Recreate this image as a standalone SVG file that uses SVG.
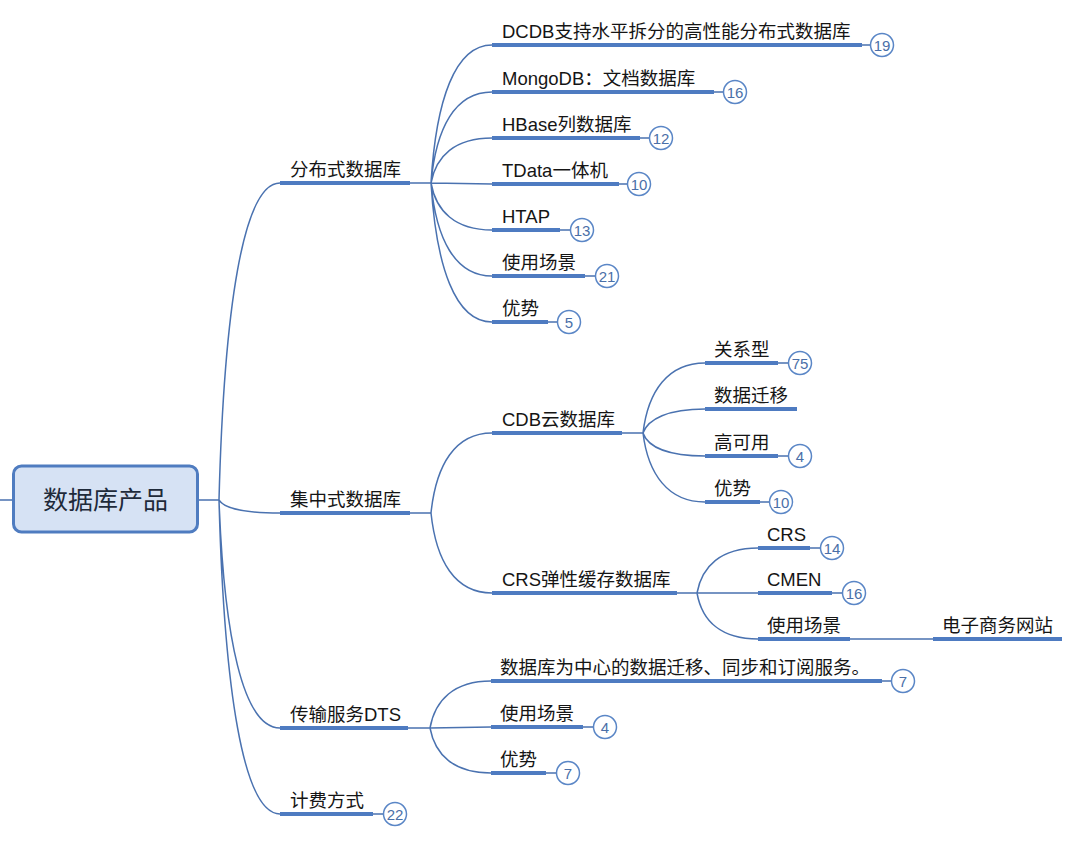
<svg xmlns="http://www.w3.org/2000/svg" width="1080" height="848" viewBox="0 0 1080 848">
<style>
.c{fill:none;stroke:#4a72b0;stroke-width:1.5}
.u{stroke:#4e7bc1;stroke-width:4;stroke-linecap:butt}
.t{font-family:"Liberation Sans","Noto Sans CJK SC",sans-serif;font-size:18.5px;fill:#151515}
.b{fill:#fff;stroke:#5a86c6;stroke-width:1.5}
.n{font-family:"Liberation Sans","Noto Sans CJK SC",sans-serif;font-size:15px;fill:#4a6fa8;text-anchor:middle}
.root{fill:#d6e2f4;stroke:#4f7cc0;stroke-width:3}
.rt{font-family:"Liberation Sans","Noto Sans CJK SC",sans-serif;font-size:25px;fill:#1e2a3a;text-anchor:middle}
</style>
<rect width="1080" height="848" fill="#fff"/>
<g id="connectors">
<path class="c" d="M0,500 H13 M198,500 H219"/>
<path class="c" d="M219,500 C224,310 243,183 280,183 M219,500 C224,508 243,513 280,513 M219,500 C224,637 243,728 280,728 M219,500 C224,688 243,814 280,814"/>
<path class="c" d="M410,183 H431 M410,513 H431 M408,728 H430 M373,814 H383.5"/>
<path class="c" d="M431,183 C436,100 455,45 492,45 M431,183 C436,128 455,92 492,92 M431,183 C436,156 455,138 492,138 M431,183 L492,184 M431,183 C436,211 455,230 492,230 M431,183 C436,239 455,276 492,276 M431,183 C436,266 455,322 492,322"/>
<path class="c" d="M862,45 H870.5 M714,92 H723.5 M640,138 H649.5 M619,184 H627.5 M560,230 H570.5 M585,276 H595.5 M548,322 H557.5"/>
<path class="c" d="M431,513 C436,465 455,433 492,433 M431,513 C436,561 455,593 492,593"/>
<path class="c" d="M622,433 H643 M677,593 H697"/>
<path class="c" d="M643,433 C648,391 668,363 705,363 M643,433 C648,419 668,409 705,409 M643,433 C648,447 668,456 705,456 M643,433 C648,474 668,502 705,502"/>
<path class="c" d="M778,363 H788.5 M778,456 H788.5 M760,502 H769.5"/>
<path class="c" d="M697,593 C702,566 721,548 758,548 M697,593 L758,593 M697,593 C702,621 721,639 758,639"/>
<path class="c" d="M810,548 H820.5 M832,593 H842.5 M850,639 H933"/>
<path class="c" d="M430,728 C435,700 454,681 491,681 M430,728 L491,727 M430,728 C435,755 454,773 491,773"/>
<path class="c" d="M882,681 H891.5 M583,727 H593.5 M546,773 H556.5"/>
</g>
<g id="root">
<rect class="root" x="13.5" y="466" width="184" height="66" rx="8"/>
<text class="rt" x="105.5" y="509">数据库产品</text>
</g>
<g id="n1"><line class="u" x1="280" y1="183" x2="410" y2="183"/><text class="t" x="290" y="176">分布式数据库</text></g>
<g id="n2"><line class="u" x1="280" y1="513" x2="410" y2="513"/><text class="t" x="290" y="506">集中式数据库</text></g>
<g id="n3"><line class="u" x1="280" y1="728" x2="408" y2="728"/><text class="t" x="290" y="721">传输服务DTS</text></g>
<g id="n4"><line class="u" x1="280" y1="814" x2="373" y2="814"/><text class="t" x="290" y="807">计费方式</text><circle class="b" cx="395" cy="814" r="11.5"/><text class="n" x="395" y="819.5">22</text></g>

<g id="n1a"><line class="u" x1="492" y1="45" x2="862" y2="45"/><text class="t" x="502" y="38">DCDB支持水平拆分的高性能分布式数据库</text><circle class="b" cx="882" cy="45" r="11.5"/><text class="n" x="882" y="50.5">19</text></g>
<g id="n1b"><line class="u" x1="492" y1="92" x2="714" y2="92"/><text class="t" x="502" y="85">MongoDB：文档数据库</text><circle class="b" cx="735" cy="92" r="11.5"/><text class="n" x="735" y="97.5">16</text></g>
<g id="n1c"><line class="u" x1="492" y1="138" x2="640" y2="138"/><text class="t" x="502" y="131">HBase列数据库</text><circle class="b" cx="661" cy="138" r="11.5"/><text class="n" x="661" y="143.5">12</text></g>
<g id="n1d"><line class="u" x1="492" y1="184" x2="619" y2="184"/><text class="t" x="502" y="177">TData一体机</text><circle class="b" cx="639" cy="184" r="11.5"/><text class="n" x="639" y="189.5">10</text></g>
<g id="n1e"><line class="u" x1="492" y1="230" x2="560" y2="230"/><text class="t" x="502" y="223">HTAP</text><circle class="b" cx="582" cy="230" r="11.5"/><text class="n" x="582" y="235.5">13</text></g>
<g id="n1f"><line class="u" x1="492" y1="276" x2="585" y2="276"/><text class="t" x="502" y="269">使用场景</text><circle class="b" cx="607" cy="276" r="11.5"/><text class="n" x="607" y="281.5">21</text></g>
<g id="n1g"><line class="u" x1="492" y1="322" x2="548" y2="322"/><text class="t" x="502" y="315">优势</text><circle class="b" cx="569" cy="322" r="11.5"/><text class="n" x="569" y="327.5">5</text></g>

<g id="n2a"><line class="u" x1="492" y1="433" x2="622" y2="433"/><text class="t" x="502" y="426">CDB云数据库</text></g>
<g id="n2b"><line class="u" x1="492" y1="593" x2="677" y2="593"/><text class="t" x="502" y="586">CRS弹性缓存数据库</text></g>

<g id="n2a1"><line class="u" x1="705" y1="363" x2="778" y2="363"/><text class="t" x="714" y="356">关系型</text><circle class="b" cx="800" cy="363" r="11.5"/><text class="n" x="800" y="368.5">75</text></g>
<g id="n2a2"><line class="u" x1="705" y1="409" x2="797" y2="409"/><text class="t" x="714" y="402">数据迁移</text></g>
<g id="n2a3"><line class="u" x1="705" y1="456" x2="778" y2="456"/><text class="t" x="714" y="449">高可用</text><circle class="b" cx="800" cy="456" r="11.5"/><text class="n" x="800" y="461.5">4</text></g>
<g id="n2a4"><line class="u" x1="705" y1="502" x2="760" y2="502"/><text class="t" x="714" y="495">优势</text><circle class="b" cx="781" cy="502" r="11.5"/><text class="n" x="781" y="507.5">10</text></g>

<g id="n2b1"><line class="u" x1="758" y1="548" x2="810" y2="548"/><text class="t" x="767" y="541">CRS</text><circle class="b" cx="832" cy="548" r="11.5"/><text class="n" x="832" y="553.5">14</text></g>
<g id="n2b2"><line class="u" x1="758" y1="593" x2="832" y2="593"/><text class="t" x="767" y="586">CMEN</text><circle class="b" cx="854" cy="593" r="11.5"/><text class="n" x="854" y="598.5">16</text></g>
<g id="n2b3"><line class="u" x1="758" y1="639" x2="850" y2="639"/><text class="t" x="767" y="632">使用场景</text></g>
<g id="n2b3a"><line class="u" x1="933" y1="639" x2="1062" y2="639"/><text class="t" x="942" y="632">电子商务网站</text></g>

<g id="n3a"><line class="u" x1="491" y1="681" x2="882" y2="681"/><text class="t" x="500" y="674">数据库为中心的数据迁移、同步和订阅服务。</text><circle class="b" cx="903" cy="681" r="11.5"/><text class="n" x="903" y="686.5">7</text></g>
<g id="n3b"><line class="u" x1="491" y1="727" x2="583" y2="727"/><text class="t" x="500" y="720">使用场景</text><circle class="b" cx="605" cy="727" r="11.5"/><text class="n" x="605" y="732.5">4</text></g>
<g id="n3c"><line class="u" x1="491" y1="773" x2="546" y2="773"/><text class="t" x="500" y="766">优势</text><circle class="b" cx="568" cy="773" r="11.5"/><text class="n" x="568" y="778.5">7</text></g>
</svg>
